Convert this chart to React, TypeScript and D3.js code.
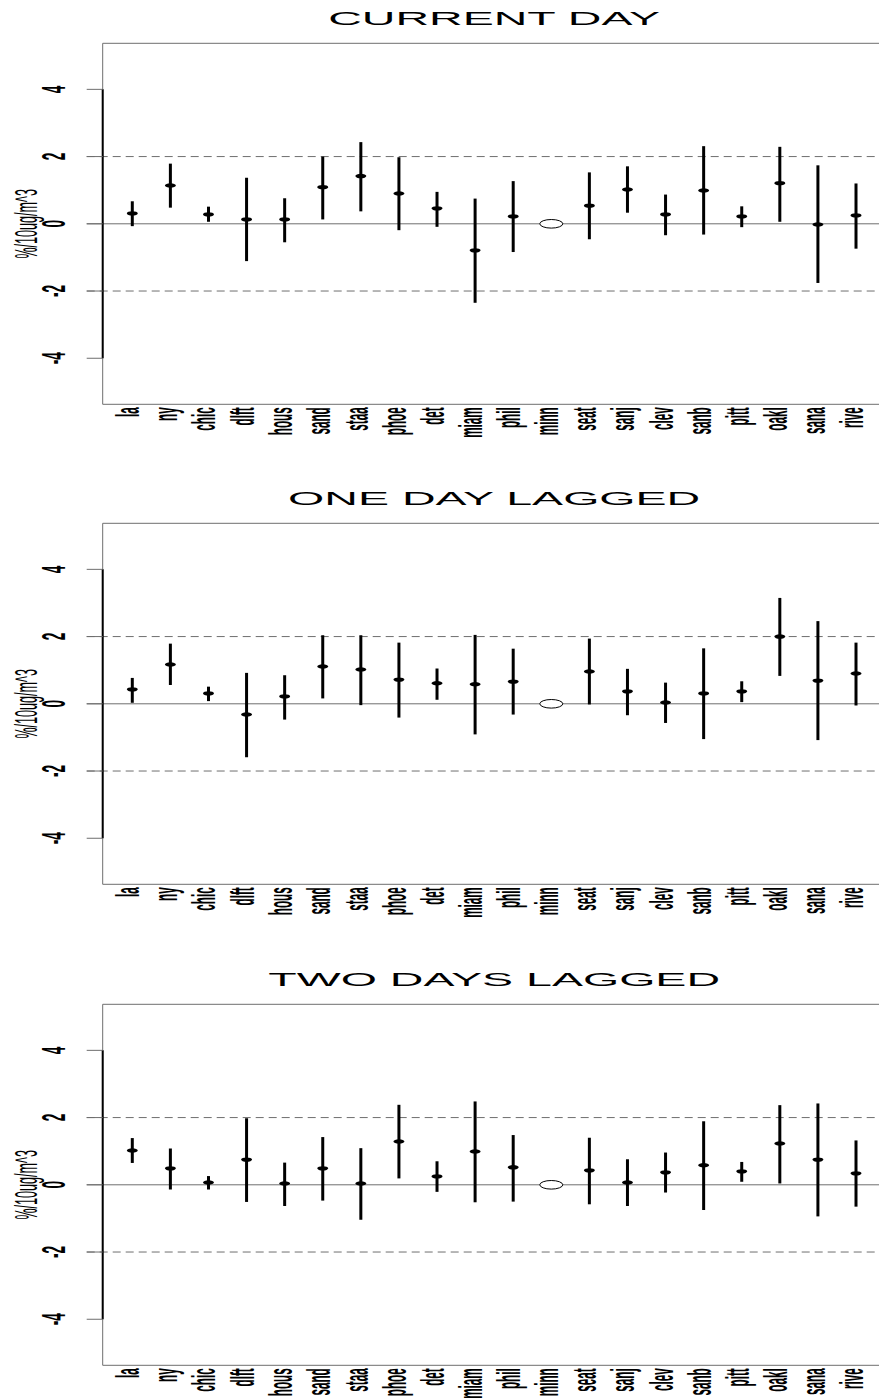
import React from "react";
import * as d3 from "d3";

const cities = ["la","ny","chic","dlft","hous","sand","staa","phoe","det","miam","phil","minn","seat","sanj","clev","sanb","pitt","oakl","sana","rive"];
const titles = ["CURRENT DAY", "ONE DAY LAGGED", "TWO DAYS LAGGED"];
const yTicks = [-4, -2, 0, 2, 4];
const refLines = [-2, 0, 2];
const yLabel = "%/10ug/m^3";
const referenceCity = "minn";

// CURRENT DAY
const est0 = [0.31,1.14,0.28,0.13,0.13,1.09,1.42,0.90,0.46,-0.79,0.22,0,0.54,1.02,0.28,0.99,0.22,1.21,-0.02,0.25];
const lo0  = [-0.07,0.48,0.06,-1.11,-0.55,0.13,0.37,-0.19,-0.09,-2.35,-0.84,0,-0.46,0.33,-0.34,-0.32,-0.10,0.06,-1.76,-0.74];
const hi0  = [0.67,1.79,0.51,1.37,0.76,2.00,2.43,1.98,0.95,0.75,1.27,0,1.53,1.71,0.87,2.31,0.52,2.29,1.74,1.20];
// ONE DAY LAGGED
const est1 = [0.43,1.17,0.31,-0.32,0.22,1.11,1.02,0.72,0.61,0.58,0.66,0,0.96,0.37,0.04,0.31,0.37,2.00,0.69,0.90];
const lo1  = [0.03,0.56,0.08,-1.59,-0.47,0.16,-0.04,-0.41,0.12,-0.91,-0.32,0,-0.02,-0.34,-0.57,-1.05,0.05,0.83,-1.08,-0.05];
const hi1  = [0.77,1.79,0.51,0.92,0.85,2.04,2.04,1.82,1.05,2.05,1.64,0,1.94,1.04,0.63,1.65,0.67,3.15,2.46,1.82];
// TWO DAYS LAGGED
const est2 = [1.02,0.49,0.07,0.75,0.04,0.49,0.04,1.29,0.25,0.99,0.52,0,0.43,0.07,0.37,0.58,0.40,1.23,0.75,0.34];
const lo2  = [0.65,-0.14,-0.14,-0.51,-0.63,-0.47,-1.04,0.19,-0.21,-0.52,-0.50,0,-0.58,-0.63,-0.23,-0.75,0.09,0.04,-0.94,-0.65];
const hi2  = [1.39,1.08,0.26,1.98,0.66,1.42,1.09,2.38,0.70,2.48,1.48,0,1.40,0.76,0.96,1.89,0.68,2.37,2.42,1.32];

const panels = [
  { est: est0, lo: lo0, hi: hi0 },
  { est: est1, lo: lo1, hi: hi1 },
  { est: est2, lo: lo2, hi: hi2 },
];

const W = 879, H = 1399;
const FONT = "'Liberation Sans', Arial, Helvetica, sans-serif";
const plotLeft = 102.7, plotRight = 885.6;
const panelTop = 43.3, panelBottom = 404.3;
const panelOffsets = [0, 480, 961];
const GRAY = "#6e6e6e";

const x = d3.scaleLinear().domain([0.223, cities.length + 0.777]).range([plotLeft, plotRight]);
const y = d3.scaleLinear().domain([-5.37, 5.37]).range([panelBottom, panelTop]);

function Panel({ idx }: { idx: number }) {
  const p = panels[idx];
  const off = panelOffsets[idx];
  const tickX0 = plotLeft - 16;
  const cx = (plotLeft + plotRight) / 2;
  return (
    <g transform={`translate(0,${off})`}>
      <text transform={`translate(${cx},25) scale(2.45,1)`} textAnchor="middle" fontFamily={FONT} fontSize={19} fill="#000">
        {titles[idx]}
      </text>
      <path d={`M${plotRight},${panelTop}H${plotLeft}V${panelBottom}H${plotRight}`} fill="none" stroke={GRAY} strokeWidth={1} />
      {refLines.map((v) => (
        <line key={v} x1={tickX0} x2={plotRight} y1={y(v)} y2={y(v)} stroke={GRAY} strokeWidth={1}
          strokeDasharray={v === 0 ? undefined : "8,5"} />
      ))}
      <line x1={plotLeft} x2={plotLeft} y1={y(4)} y2={y(-4)} stroke="#000" strokeWidth={2} />
      {yTicks.map((t) => (
        <g key={t}>
          <line x1={tickX0} x2={plotLeft} y1={y(t)} y2={y(t)} stroke={GRAY} strokeWidth={1} />
          <text transform={`translate(65,${y(t)}) rotate(-90) scale(0.44,1.1)`} textAnchor="middle" fontFamily={FONT}
            fontSize={31} fontWeight={600} fill="#000">
            {String(t)}
          </text>
        </g>
      ))}
      <text transform={`translate(37,${y(0)}) rotate(-90) scale(0.45,1.1)`} textAnchor="middle" fontFamily={FONT}
        fontSize={28} fill="#000">
        {yLabel}
      </text>
      {cities.map((c, i) => (
        <text key={c} transform={`translate(${x(i + 1) + 7},${panelBottom + 3}) rotate(-90) scale(0.39,1.1)`} textAnchor="end"
          fontFamily={FONT} fontSize={30} fontWeight={600} fill="#000">
          {c}
        </text>
      ))}
      {cities.map((c, i) => {
        const xi = x(i + 1);
        if (c === referenceCity) {
          return <ellipse key={c} cx={xi} cy={y(0)} rx={11.5} ry={4.3} fill="#fff" stroke="#000" strokeWidth={1} />;
        }
        return (
          <g key={c}>
            <line x1={xi} x2={xi} y1={y(p.lo[i])} y2={y(p.hi[i])} stroke="#000" strokeWidth={3} />
            <ellipse cx={xi} cy={y(p.est[i])} rx={5.5} ry={2.2} fill="#000" />
          </g>
        );
      })}
    </g>
  );
}

export default function App() {
  return (
    <svg width={W} height={H} viewBox={`0 0 ${W} ${H}`} style={{ position: "absolute", left: 0, top: 0, background: "#fff" }}>
      <rect x={0} y={0} width={W} height={H} fill="#fff" />
      {panels.map((_, i) => <Panel key={i} idx={i} />)}
    </svg>
  );
}
